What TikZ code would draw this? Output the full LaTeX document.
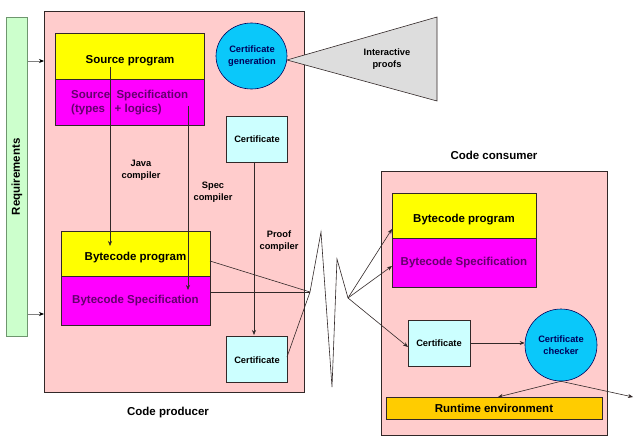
\documentclass[tikz,border=0pt]{standalone}
\usepackage{fontspec}
\setmainfont{Liberation Sans}
\usetikzlibrary{arrows.meta,shapes.geometric}
\definecolor{pinkbg}{RGB}{255,204,204}
\definecolor{greenbg}{RGB}{204,255,204}
\definecolor{greenln}{RGB}{110,150,110}
\definecolor{yel}{RGB}{255,255,0}
\definecolor{mag}{RGB}{255,0,255}
\definecolor{certbg}{RGB}{204,255,255}
\definecolor{circbg}{RGB}{10,200,250}
\definecolor{navy}{RGB}{0,0,90}
\definecolor{purp}{RGB}{100,0,110}
\definecolor{orng}{RGB}{255,204,0}
\definecolor{trig}{RGB}{221,221,221}
\definecolor{linec}{RGB}{50,40,40}
\begin{document}
\begin{tikzpicture}[x=1pt,y=-1pt,
  box/.style={draw=linec, line width=0.6pt, inner sep=0pt, anchor=north west},
  big/.style={font=\fontsize{11.5}{14}\selectfont\bfseries, inner sep=0pt},
  small/.style={font=\fontsize{9.3}{12}\selectfont\bfseries, inner sep=0pt, align=center},
  arr/.style={draw=linec, line width=0.6pt, -{Stealth[length=5pt,width=4pt]}},
  reqarr/.style={draw=gray, line width=0.8pt, -{Stealth[length=5pt,width=4pt,color=black]}},
  ln/.style={draw=linec, line width=0.6pt},
  circ/.style={draw=navy, line width=0.6pt, fill=circbg, inner sep=0pt}]
\path[use as bounding box, fill=white] (0,0) rectangle (640,441);

% Requirements
\node[box, draw=greenln, fill=greenbg, minimum width=21pt, minimum height=319pt] (req) at (6,17) {};
\node[big, rotate=90] (reqt) at (req.center) {Requirements};

% Producer
\node[box, fill=pinkbg, minimum width=260pt, minimum height=381pt] (prod) at (44,11) {};
\node[big] (prodt) at (168,413) {Code producer};

\draw[reqarr] (req.east |- 0,61) -- (prod.west |- 0,61);
\draw[reqarr] (req.east |- 0,314) -- (prod.west |- 0,314);

% Source
\node[box, fill=yel, minimum width=149pt, minimum height=46pt] (srcprog) at (55,33) {};
\node[box, fill=mag, minimum width=149pt, minimum height=46pt] (srcspec) at (55,79) {};
\node[big] (srcprogt) at (130,61) {Source program};
\node[big, text=purp, anchor=west, align=left, font=\fontsize{11.5}{14}\selectfont\bfseries] (srcspect) at (71,103) {Source\ \ Specification\\(types\ \ \ + logics)};

% Certificate generation and triangle
\coordinate (tip) at (287,60);
\coordinate (ttop) at (437,17);
\coordinate (tbot) at (437,101);
\draw[ln, fill=trig] (tip) -- (ttop) -- (tbot) -- cycle;
\node[small] (intp) at (387,59) {Interactive\\proofs};
\node[circ, ellipse, minimum width=71pt, minimum height=66pt] (gen) at (251.5,56) {};
\node[small, text=navy] (gent) at (252,56) {Certificate\\generation};

% Certificates in producer
\node[box, fill=certbg, minimum width=61pt, minimum height=46pt] (certA) at (226,116) {};
\node[small] (certAt) at (257,139) {Certificate};
\node[box, fill=certbg, minimum width=61pt, minimum height=46pt] (certB) at (226,336) {};
\node[small] (certBt) at (257,360) {Certificate};

% Bytecode in producer
\node[box, fill=yel, minimum width=149pt, minimum height=45pt] (bcprog) at (61,231) {};
\node[box, fill=mag, minimum width=149pt, minimum height=49pt] (bcspec) at (61,276) {};
\node[big] (bcprogt) at (135.5,258) {Bytecode program};
\node[big, text=purp] (bcspect) at (135.5,301) {Bytecode Specification};

% compilers
\coordinate (js) at (110,67);
\coordinate (je) at (110,246);
\draw[arr] (js) -- (je);
\node[small] (jt) at (141,170) {Java\\compiler};
\coordinate (ss) at (188,106);
\coordinate (se) at (188,290);
\draw[arr] (ss) -- (se);
\node[small] (st) at (213,192) {Spec\\compiler};
\coordinate (ps) at (254,162);
\coordinate (pe) at (254,335);
\draw[arr] (ps) -- (pe);
\node[small] (pt) at (279,241) {Proof\\compiler};

% transmission
\coordinate (bpo) at (210,261);
\coordinate (bso) at (210,292);
\coordinate (cbo) at (287,357);
\coordinate (J) at (310,292);
\coordinate (z1) at (321,232);
\coordinate (z2) at (332,387);
\coordinate (z3) at (337,259);
\coordinate (K) at (348,298);
\draw[ln] (bpo) -- (J);
\draw[ln] (bso) -- (J);
\draw[ln] (cbo) -- (J) -- (z1) -- (z2) -- (z3) -- (K);

% Consumer
\node[box, fill=pinkbg, minimum width=226pt, minimum height=264pt] (cons) at (381,171) {};
\node[big] (const) at (494,155) {Code consumer};
\node[box, fill=yel, minimum width=144pt, minimum height=45pt] (cbprog) at (392,193) {};
\node[box, fill=mag, minimum width=144pt, minimum height=49pt] (cbspec) at (392,238) {};
\node[big] (cbprogt) at (464,220) {Bytecode program};
\node[big, text=purp] (cbspect) at (464,263) {Bytecode Specification};
\node[box, fill=certbg, minimum width=62pt, minimum height=46pt] (certC) at (408,320) {};
\node[small] (certCt) at (439,343) {Certificate};
\node[circ, circle, minimum size=72pt] (chk) at (561,345) {};
\node[small, text=navy] (chkt) at (561,345) {Certificate\\checker};
\node[box, fill=orng, minimum width=216pt, minimum height=22pt] (rt) at (386,397) {};
\node[big] (rtt) at (494,408) {Runtime environment};

\coordinate (a1) at (392,229);
\coordinate (a2) at (392,266);
\coordinate (a3) at (408,347);
\draw[arr] (K) -- (a1);
\draw[arr] (K) -- (a2);
\draw[arr] (K) -- (a3);
\draw[arr] (certC.east |- 0,343) -- (chk.west |- 0,343);
\coordinate (r1) at (498,397);
\coordinate (r2) at (633,397);
\draw[arr] (chk.south) -- (r1);
\draw[arr] (chk.south) -- (r2);
\end{tikzpicture}
\end{document}
